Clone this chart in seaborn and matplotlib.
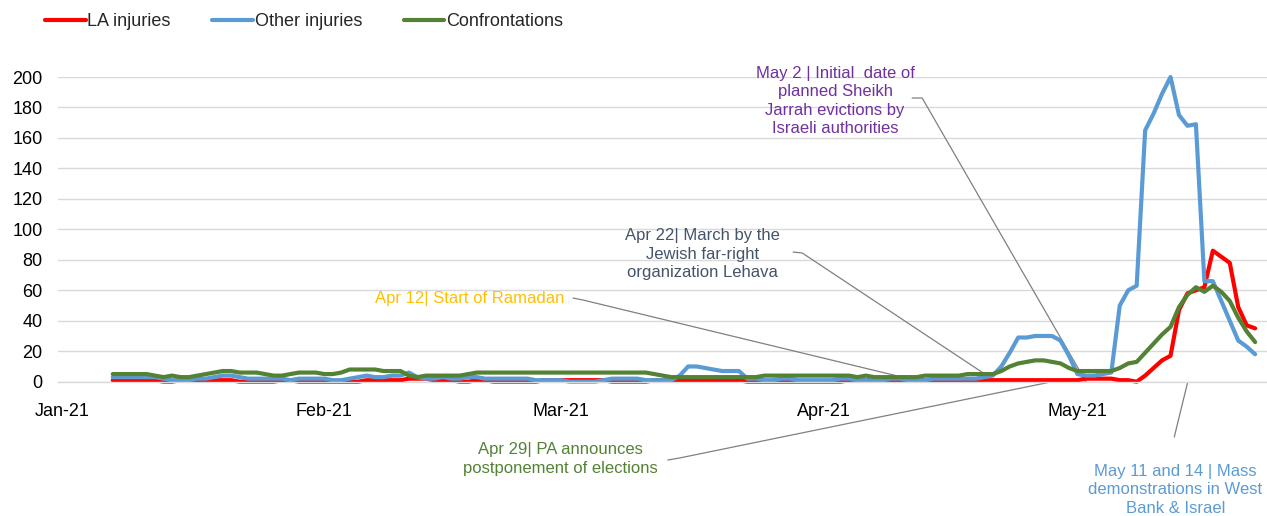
import pandas as pd
import seaborn as sns
import matplotlib.pyplot as plt
import matplotlib.dates as mdates

# daily values, 7 Jan 2021 - 22 May 2021
dates = pd.date_range("2021-01-07", "2021-05-22", freq="D")

la_injuries = (
    [1, 1, 1, 1, 1, 1, 0, 0, 1, 1, 1, 1, 1, 1, 1, 0, 0, 0, 0, 0, 1, 1, 0, 0, 0]  # Jan
    + [0, 0, 0, 0, 0, 1, 1, 1, 1, 1, 2, 2, 2, 1, 1, 1, 0, 0, 1, 1, 0, 0, 0, 0, 0, 0, 1, 1]  # Feb
    + [1, 1, 1, 1, 1, 1, 0, 0, 0, 0, 0, 1, 1, 1, 1, 1, 1, 1, 1, 1, 1, 1, 0, 0, 0, 0, 0, 0, 0, 0, 0]  # Mar
    + [0, 0, 0, 1, 1, 1, 1, 1, 1, 1, 1, 1, 1, 1, 1, 1, 1, 1, 1, 1, 1, 1, 1, 1, 1, 1, 1, 1, 1, 1]  # Apr
    + [1, 2, 2, 2, 2, 1, 1, 0, 4, 9, 14, 17, 47, 58, 60, 62, 86, 82, 78, 49, 37, 35]  # May
)

other_injuries = (
    [3, 3, 3, 3, 3, 3, 2, 1, 1, 1, 2, 2, 3, 4, 4, 3, 2, 2, 2, 2, 2, 1, 2, 2, 2]  # Jan
    + [2, 1, 1, 2, 3, 4, 3, 3, 4, 4, 6, 3, 2, 2, 3, 2, 2, 3, 3, 2, 2, 2, 2, 2, 2, 1, 1, 1]  # Feb
    + [1, 0, 0, 0, 0, 1, 2, 2, 2, 2, 1, 1, 1, 1, 4, 10, 10, 9, 8, 7, 7, 7, 2, 2, 1, 1, 2, 2, 1, 1, 1]  # Mar
    + [1, 1, 2, 2, 1, 1, 1, 1, 2, 2, 1, 1, 1, 2, 2, 2, 2, 2, 2, 3, 4, 10, 19, 29, 29, 30, 30, 30, 27, 17]  # Apr
    + [5, 4, 4, 5, 6, 50, 60, 63, 165, 176, 189, 200, 175, 168, 169, 66, 66, 53, 40, 27, 23, 18]  # May
)

confrontations = (
    [5, 5, 5, 5, 5, 4, 3, 4, 3, 3, 4, 5, 6, 7, 7, 6, 6, 6, 5, 4, 4, 5, 6, 6, 6]  # Jan
    + [5, 5, 6, 8, 8, 8, 8, 7, 7, 7, 4, 3, 4, 4, 4, 4, 4, 5, 6, 6, 6, 6, 6, 6, 6, 6, 6, 6]  # Feb
    + [6, 6, 6, 6, 6, 6, 6, 6, 6, 6, 6, 5, 4, 3, 3, 3, 3, 3, 3, 3, 3, 3, 3, 3, 4, 4, 4, 4, 4, 4, 4]  # Mar
    + [4, 4, 4, 4, 3, 4, 3, 3, 3, 3, 3, 3, 4, 4, 4, 4, 4, 5, 5, 5, 5, 7, 10, 12, 13, 14, 14, 13, 12, 9]  # Apr
    + [7, 7, 7, 7, 7, 9, 12, 13, 19, 25, 31, 36, 49, 57, 62, 59, 63, 59, 53, 42, 33, 26]  # May
)

series_names = ["LA injuries", "Other injuries", "Confrontations"]
series_colors = ["#FF0000", "#5B9BD5", "#548235"]

df = pd.DataFrame({
    "date": dates,
    "LA injuries": la_injuries,
    "Other injuries": other_injuries,
    "Confrontations": confrontations,
})
long_df = df.melt(id_vars="date", var_name="series", value_name="count")

sns.set_theme(style="white")
plt.rcParams["font.family"] = ["Liberation Sans", "DejaVu Sans"]

W, H = 1267, 516
fig = plt.figure(figsize=(W / 100, H / 100), dpi=100)
ax = fig.add_axes([58 / W, 1 - 381.7 / H, 1 - 58 / W, (381.7 - 77) / H])

sns.lineplot(data=long_df, x="date", y="count", hue="series", hue_order=series_names,
             palette=series_colors, linewidth=3, ax=ax, legend=False)
for line in ax.lines:
    line.set_clip_on(False)

start = pd.Timestamp("2021-01-01")


def day(d):
    return start + pd.Timedelta(days=d)


ax.set_xlim(day(-0.47), day(142.4))
ax.set_ylim(0, 200)
ax.set_yticks(range(0, 201, 20))
ax.set_xticks(pd.date_range("2021-01-01", "2021-05-01", freq="MS"))
ax.xaxis.set_major_formatter(mdates.DateFormatter("%b-%y"))
ax.set_xlabel("")
ax.set_ylabel("")
ax.yaxis.grid(True, color="#D9D9D9", linewidth=1)
ax.xaxis.grid(False)
for s in ["top", "right", "left"]:
    ax.spines[s].set_visible(False)
ax.spines["bottom"].set_color("#D9D9D9")
ax.spines["bottom"].set_linewidth(1)
ax.tick_params(axis="x", length=0, labelsize=13, pad=15, colors="#000000")
ax.tick_params(axis="y", length=0, labelsize=13, pad=11, colors="#000000")

# event callouts: text centre, leader line
events = [
    ("May 2 | Initial  date of\nplanned Sheikh\nJarrah evictions by\nIsraeli authorities",
     "#7030A0", (91.37, 184.2), [(100.47, 186.2), (101.65, 186.2), (121.0, 0)]),
    ("Apr 22| March by the\nJewish far-right\norganization Lehava",
     "#44546A", (75.65, 83.8), [(86.4, 85.1), (87.47, 84.5), (108.87, 5.7)]),
    ("Apr 12| Start of Ramadan",
     "#FFC000", (48.23, 54.9), [(60.4, 54.9), (61.58, 53.6), (100.7, 1.1)]),
    ("Apr 29| PA announces\npostponement of elections",
     "#548235", (58.87, -50.7), [(71.6, -51.4), (73.05, -50.0), (117.97, 1.1)]),
    ("May 11 and 14 | Mass\ndemonstrations in West\nBank & Israel",
     "#5B9BD5", (131.56, -71.0), [(131.44, -36.3), (133.0, -0.9)]),
]
for text, color, (tx, ty), leader in events:
    ax.plot([day(p[0]) for p in leader], [p[1] for p in leader],
            color="#808080", linewidth=0.9, clip_on=False, zorder=1)
    ax.text(day(tx), ty, text, color=color, fontsize=12, ha="center", va="center",
            multialignment="center", linespacing=1.3, clip_on=False)

handles = [plt.Line2D([], [], color=c, linewidth=3) for c in series_colors]
fig.legend(handles, series_names, loc="center left", bbox_to_anchor=(45 / W, 1 - 22 / H),
           ncol=3, frameon=False, fontsize=13, handlelength=2.25, handletextpad=0.1,
           columnspacing=2.3, borderpad=0, borderaxespad=0)

fig.savefig("out.png", dpi=100)
